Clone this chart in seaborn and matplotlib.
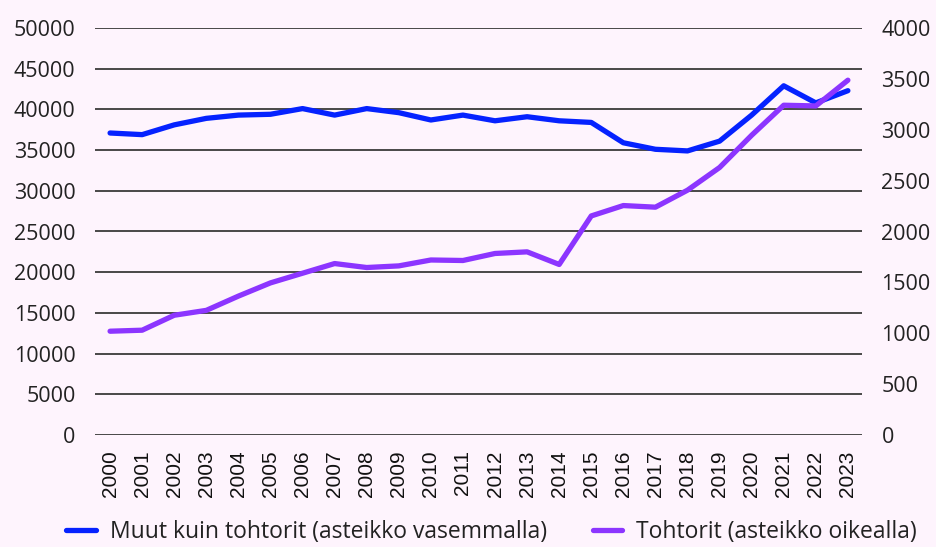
import numpy as np
import pandas as pd
import seaborn as sns
from matplotlib import pyplot as plt

years = list(range(2000, 2024))
muut = [37100, 36900, 38100, 38900, 39300, 39400, 40100, 39300, 40100, 39600,
        38700, 39300, 38600, 39100, 38600, 38400, 35900, 35100, 34900, 36100,
        39300, 42900, 40800, 42300]
tohtorit = [1020, 1030, 1177, 1225, 1365, 1495, 1590, 1685, 1646, 1662,
            1720, 1715, 1784, 1800, 1676, 2153, 2255, 2239, 2406, 2629,
            2946, 3241, 3234, 3487]

muut_label = "Muut kuin tohtorit (asteikko vasemmalla)"
toht_label = "Tohtorit (asteikko oikealla)"
blue = "#0522FF"
purple = "#8C35FF"
bg = "#FEF4FD"

sns.set_theme(style="white")
plt.rcParams["font.family"] = ["Open Sans", "DejaVu Sans"]

df = pd.DataFrame({"Vuosi": years, "Muut": muut, "Tohtorit": tohtorit})

fig = plt.figure(figsize=(9.36, 5.47), dpi=100, facecolor=bg)
ax = fig.add_axes([95 / 936, 1 - 435 / 547, 767 / 936, 407 / 547])
ax.set_facecolor(bg)
ax2 = ax.twinx()

sns.lineplot(data=df, x="Vuosi", y="Muut", ax=ax, color=blue, linewidth=3.8,
             label=muut_label, legend=False)
sns.lineplot(data=df, x="Vuosi", y="Tohtorit", ax=ax2, color=purple, linewidth=3.8,
             label=toht_label, legend=False)

ax.set_ylim(0, 50000)
ax2.set_ylim(0, 4000)
ax.set_yticks(np.arange(0, 50001, 5000))
ax2.set_yticks(np.arange(0, 4001, 500))
ax.set_xlim(years[0] - 0.47, years[-1] + 0.44)
ax.set_xticks(years)
ax.set_xticklabels([str(y) for y in years], rotation=90,
                   family=["Liberation Sans", "DejaVu Sans"], fontsize=15)
ax.set_xlabel("")
ax.set_ylabel("")
ax2.set_ylabel("")

ax.grid(axis="y", color="#3a3a3a", linewidth=1.3)
ax.set_axisbelow(True)
ax2.grid(False)
for a in (ax, ax2):
    for s in a.spines.values():
        s.set_visible(False)
ax.tick_params(axis="y", length=0, pad=14, labelsize=15.5, labelcolor="#222222")
ax2.tick_params(axis="y", length=0, pad=14, labelsize=15.5, labelcolor="#222222")
ax.tick_params(axis="x", length=0, pad=11, labelcolor="#111111")

handles = ax.get_lines()[:1] + ax2.get_lines()[:1]
leg = fig.legend(handles, [muut_label, toht_label], loc="center",
                 bbox_to_anchor=(0.525, 0.028), ncol=2, frameon=False,
                 fontsize=16.5, handlelength=1.3, columnspacing=2.0,
                 handletextpad=0.6, borderpad=0.1)
for t in leg.get_texts():
    t.set_color("#222222")

fig.savefig("out.png", dpi=100, facecolor=bg)
